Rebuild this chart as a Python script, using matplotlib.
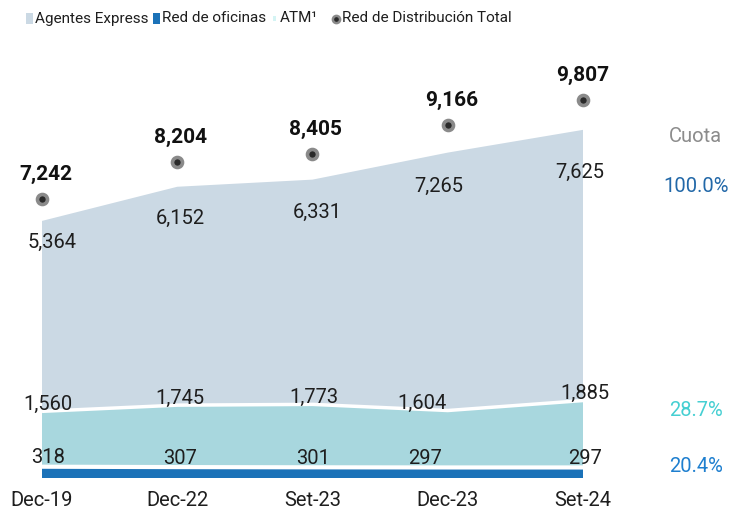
import matplotlib
matplotlib.use("Agg")
import matplotlib.pyplot as plt
from matplotlib.patches import Rectangle
from matplotlib.lines import Line2D
import numpy as np

plt.rcParams['font.family'] = ['Roboto', 'DejaVu Sans']

categories = ["Dec-19", "Dec-22", "Set-23", "Dec-23", "Set-24"]
agentes = [5364, 6152, 6331, 7265, 7625]
atm = [1560, 1745, 1773, 1604, 1885]
oficinas = [318, 307, 301, 297, 297]
total = [7242, 8204, 8405, 9166, 9807]
cuota_labels = ["Cuota", "100.0%", "28.7%", "20.4%"]
legend_labels = ["Agentes Express", "Red de oficinas", "ATM\u00b9", "Red de Distribución Total"]

c_agentes = "#cbd9e4"
c_atm = "#a8d7de"
c_ofi = "#1b72b8"
LW = "normal"
TXT = "#1e1e1e"

W, Hh = 734, 512
fig = plt.figure(figsize=(W / 100, Hh / 100), dpi=100)

x0_px, x1_px = 42, 583
base_px, top_px = 478, 60
ax = fig.add_axes([x0_px / W, 1 - base_px / Hh, (x1_px - x0_px) / W, (base_px - top_px) / Hh])
Hpx = base_px - top_px
ax.set_xlim(0, len(categories) - 1)
ax.set_ylim(0, Hpx / 0.0355)

x = np.arange(len(categories))
ofi = np.array(oficinas)
at = np.array(atm)
ag = np.array(agentes)
ax.stackplot(x, ofi, at, ag, colors=[c_ofi, c_atm, c_agentes], linewidth=0)
ax.plot(x, ofi, color="white", lw=3.0, solid_capstyle="butt")
ax.plot(x, ofi + at, color="white", lw=2.5, solid_capstyle="butt")

for s in ax.spines.values():
    s.set_visible(False)
ax.set_yticks([])
ax.set_xticks(x)
ax.set_xticklabels(categories, fontsize=14.5, fontweight=LW)
ax.tick_params(axis="x", length=0, pad=9, colors=TXT)

# dots on a separate scale
ax2 = ax.twinx()
ax2.set_ylim(0, Hpx / 0.0385)
ax2.set_yticks([])
for s in ax2.spines.values():
    s.set_visible(False)
ax2.plot(x, total, ls="none", marker="o", ms=7.2, mfc="#2a2a2a", mec="#8a8a8a", mew=2.6, clip_on=False)

def px(v):
    return v * 0.72  # pixels to points

tot_dx = [4, 3, 3, 4, 0]
for i, v in enumerate(total):
    ax2.annotate(f"{v:,}", (x[i], v), xytext=(px(tot_dx[i]), px(25)), textcoords="offset points",
                 ha="center", va="center", fontsize=15, fontweight="bold", color="#111111", annotation_clip=False)

ag_dx = [10, 3, 5, -9, -3]
ag_dy = [-21, -32, -33, -34, -43]
for i, v in enumerate(agentes):
    ax.annotate(f"{v:,}", (x[i], ofi[i] + at[i] + ag[i]), xytext=(px(ag_dx[i]), px(ag_dy[i])), textcoords="offset points",
                ha="center", va="center", fontsize=14.5, fontweight=LW, color=TXT, annotation_clip=False)

atm_dx = [6, 3, 1, -26, 2]
for i, v in enumerate(atm):
    ax.annotate(f"{v:,}", (x[i], ofi[i] + at[i]), xytext=(px(atm_dx[i]), px(7)), textcoords="offset points",
                ha="center", va="center", fontsize=14.5, fontweight=LW, color=TXT, annotation_clip=False)

ofi_dx = [6, 3, 1, -23, 2]
for i, v in enumerate(oficinas):
    ax.annotate(f"{v:,}", (x[i], ofi[i]), xytext=(px(ofi_dx[i]), px(9)), textcoords="offset points",
                ha="center", va="center", fontsize=14.5, fontweight=LW, color=TXT, annotation_clip=False)

# right side cuota
fig.text(695 / W, 1 - 136 / Hh, cuota_labels[0], ha="center", va="center", fontsize=14.5, fontweight=LW, color="#8c8c8c")
fig.text(696 / W, 1 - 186 / Hh, cuota_labels[1], ha="center", va="center", fontsize=14.5, fontweight=LW, color="#2268a8")
fig.text(696 / W, 1 - 411 / Hh, cuota_labels[2], ha="center", va="center", fontsize=14.5, fontweight=LW, color="#45cfd2")
fig.text(696 / W, 1 - 467 / Hh, cuota_labels[3], ha="center", va="center", fontsize=14.5, fontweight=LW, color="#1e7fcf")

# legend (manual)
ly = 1 - 18.5 / Hh
def rect(xp, yp_top, wpx, hpx, color):
    fig.patches.append(Rectangle((xp / W, 1 - (yp_top + hpx) / Hh), wpx / W, hpx / Hh,
                                 transform=fig.transFigure, facecolor=color, edgecolor="none"))
rect(26, 13, 7, 11, c_agentes)
rect(153, 13, 7, 11, c_ofi)
rect(273, 16, 3, 5, "#d4f4f4")
fig.add_artist(Line2D([336 / W], [ly], transform=fig.transFigure, ls="none", marker="o", ms=5.2,
                      mfc="#2a2a2a", mec="#8a8a8a", mew=1.8))
for xp, t in zip([35, 162, 280, 342], legend_labels):
    fig.text(xp / W, ly, t, ha="left", va="center", fontsize=11, color=TXT)

fig.savefig("out.png", dpi=100)
